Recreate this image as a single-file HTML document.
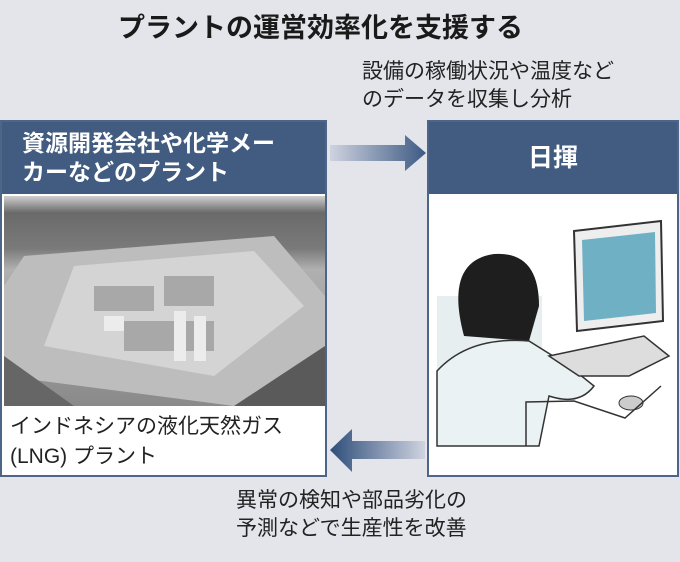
<!DOCTYPE html>
<html><head><meta charset="utf-8"><style>
body{margin:0;width:680px;height:562px;background:#e4e5ea;font-family:"Liberation Sans","Noto Sans CJK JP",sans-serif;position:relative;overflow:hidden}
.t{position:absolute;color:#222;white-space:nowrap}
.box{position:absolute;border:2px solid #4d6688;background:#fff;box-sizing:border-box}
.hd{position:absolute;left:0;right:0;top:0;height:72px;background:#415c80;color:#fff;font-weight:bold}
</style></head><body>
<div class="t" style="left:118px;top:6px;font-size:27px;font-weight:bold;color:#1a1a1a">プラントの運営効率化を支援する</div>
<div class="t" style="left:362px;top:58px;font-size:21px;line-height:28px">設備の稼働状況や温度など<br>のデータを収集し分析</div>

<div class="box" style="left:0;top:120px;width:327px;height:357px">
 <div class="hd" style="font-size:23px;line-height:29px;padding:7px 0 0 20px;box-sizing:border-box">資源開発会社や化学メー<br>カーなどのプラント</div>
 <svg style="position:absolute;left:2px;top:74px" width="321" height="210">
  <defs><linearGradient id="g" x1="0" y1="0" x2="0" y2="1"><stop offset="0" stop-color="#d0d0d0"/><stop offset=".08" stop-color="#6a6a6a"/><stop offset=".25" stop-color="#7a7a7a"/><stop offset=".35" stop-color="#b0b0b0"/><stop offset="1" stop-color="#8a8a8a"/></linearGradient></defs>
  <rect width="321" height="210" fill="url(#g)"/>
  <polygon points="20,60 270,40 321,100 321,160 230,210 0,180 0,90" fill="#bdbdbd"/>
  <polygon points="70,70 250,55 300,110 210,180 40,150" fill="#d4d4d4"/>
  <g fill="#a8a8a8"><rect x="90" y="90" width="60" height="25"/><rect x="160" y="80" width="50" height="30"/><rect x="120" y="125" width="90" height="30"/></g>
  <g fill="#ececec"><rect x="170" y="115" width="12" height="50"/><rect x="190" y="120" width="12" height="45"/><rect x="100" y="120" width="20" height="15"/></g>
  <polygon points="0,160 70,210 0,210" fill="#666"/>
  <polygon points="230,210 321,150 321,210" fill="#5a5a5a"/>
 </svg>
 <div class="t" style="left:8px;top:290px;font-size:21px;line-height:30px">インドネシアの液化天然ガス<br>(LNG) プラント</div>
</div>

<div class="box" style="left:427px;top:120px;width:252px;height:357px">
 <div class="hd" style="font-size:25px;text-align:center;line-height:72px">日揮</div>
 <svg style="position:absolute;left:0;top:74px" width="248" height="280">
  <rect x="8" y="100" width="105" height="140" fill="#e6eef0"/>
  <path d="M35,140 Q15,65 65,58 Q110,55 110,110 L100,145 Z" fill="#1e1e1e"/>
  <path d="M8,175 Q40,140 100,145 L140,170 L165,190 Q150,210 120,200 L110,250 L8,250Z" fill="#eaf2f4" stroke="#333" stroke-width="1.5"/>
  <polygon points="145,35 232,25 234,125 148,135" fill="#eee" stroke="#333" stroke-width="2"/>
  <polygon points="153,44 226,36 227,117 155,125" fill="#6fb0c4"/>
  <polygon points="120,160 215,140 240,160 200,180 150,180" fill="#ddd" stroke="#333" stroke-width="1.5"/>
  <ellipse cx="202" cy="207" rx="12" ry="7" fill="#ccc" stroke="#333"/>
  <path d="M97,250 L97,206 L145,205 L196,222 L232,190" fill="none" stroke="#333" stroke-width="1.5"/>
 </svg>
</div>

<svg style="position:absolute;left:0;top:0" width="680" height="562">
 <defs>
  <linearGradient id="a1" x1="0" x2="1"><stop offset="0" stop-color="#cfd3e0"/><stop offset="1" stop-color="#3d5a84"/></linearGradient>
  <linearGradient id="a2" x1="1" x2="0"><stop offset="0" stop-color="#cfd3e0"/><stop offset="1" stop-color="#2e4e7a"/></linearGradient>
 </defs>
 <polygon points="330,145 405,145 405,135 426,153 405,171 405,161 330,161" fill="url(#a1)"/>
 <polygon points="425,441 352,441 352,429 330,450 352,472 352,459 425,459" fill="url(#a2)"/>
</svg>
<div class="t" style="left:236px;top:487px;font-size:21px;line-height:28px">異常の検知や部品劣化の<br>予測などで生産性を改善</div>
</body></html>
